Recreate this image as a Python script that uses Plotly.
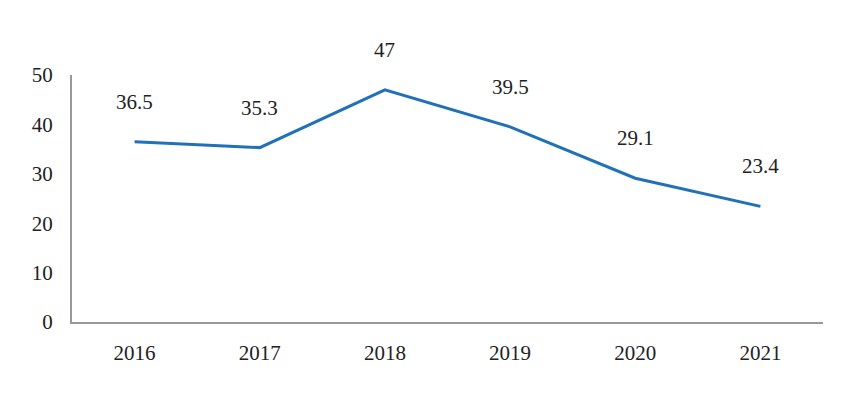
import plotly.graph_objects as go

years = ["2016", "2017", "2018", "2019", "2020", "2021"]
values = [36.5, 35.3, 47, 39.5, 29.1, 23.4]
labels = ["36.5", "35.3", "47", "39.5", "29.1", "23.4"]
y_ticks = [0, 10, 20, 30, 40, 50]

fig = go.Figure()
fig.add_trace(go.Scatter(x=years, y=values, mode="lines",
                         line=dict(color="#2171b9", width=3), hoverinfo="skip"))
# category axis: annotation x given as category index (numeric-like names would be read as indices)
for i, (v, t) in enumerate(zip(values, labels)):
    fig.add_annotation(x=i, y=v, text=t, showarrow=False, yshift=40,
                       font=dict(family="Liberation Serif", size=21, color="#222"))

fig.update_layout(
    width=847, height=397,
    margin=dict(l=64, r=32, t=67, b=83),
    paper_bgcolor="white", plot_bgcolor="white",
    showlegend=False,
    font=dict(family="Liberation Serif", size=21, color="#222"),
)
fig.update_xaxes(type="category", categoryorder="array", categoryarray=years,
                 range=[-0.5, len(years) - 0.5], autorange=False,
                 showline=True, linecolor="#999", linewidth=2,
                 showgrid=False, ticks="outside", ticklen=11, tickcolor="rgba(0,0,0,0)")
fig.update_yaxes(range=[0, 50], tickvals=y_ticks, showline=True, linecolor="#999",
                 linewidth=2, showgrid=False, zeroline=False,
                 ticks="outside", ticklen=13, tickcolor="rgba(0,0,0,0)")
fig.write_html("out.html")
